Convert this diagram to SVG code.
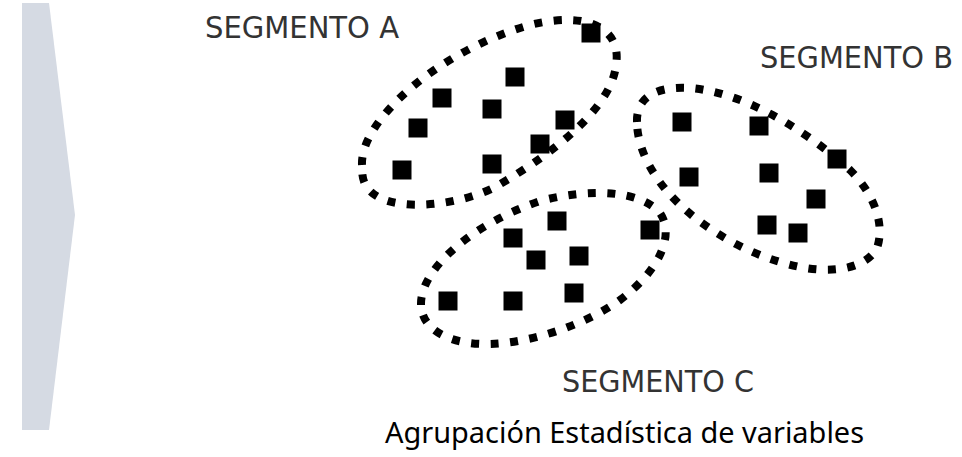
<svg xmlns="http://www.w3.org/2000/svg" width="962" height="457" viewBox="0 0 962 457">
<style>
.bg{fill:#ffffff}
.chev{fill:#D5DAE3}
.ring{fill:none;stroke:#000;stroke-width:8;stroke-dasharray:8 11.5}
.pt{fill:#000}
.lbl{font-family:"DejaVu Sans Condensed","DejaVu Sans",sans-serif;font-size:31px;fill:#333}
.cap{font-family:"Noto Sans","Open Sans",sans-serif;font-size:29px;fill:#000}
</style>
<defs>
<rect id="sq" x="-9.5" y="-9.5" width="19" height="19"/>
</defs>
<rect class="bg" x="0" y="0" width="962" height="457"/>
<polygon id="chevron" class="chev" points="22,3 49,3 75,215 49,430 22,430"/>
<g id="segmento-a">
<path class="ring" d="M 362,165 C 360,120 440,50 530,25 C 590,10 622,30 616,65 C 612,105 560,150 495,187 C 460,205 400,212 375,195 C 362,186 362,175 362,165 Z"/>
<g class="pt">
<use href="#sq" x="591" y="33"/><use href="#sq" x="515" y="77"/><use href="#sq" x="442" y="98"/>
<use href="#sq" x="492" y="109"/><use href="#sq" x="418" y="128"/><use href="#sq" x="565" y="120"/>
<use href="#sq" x="540" y="144"/><use href="#sq" x="402" y="170"/><use href="#sq" x="492" y="164"/>
</g>
<text class="lbl" x="205" y="38" textLength="194" lengthAdjust="spacingAndGlyphs">SEGMENTO A</text>
</g>
<g id="segmento-b">
<path class="ring" d="M 637,122 C 636,95 660,86 690,88 C 740,92 800,125 850,170 C 875,195 885,225 877,248 C 865,270 830,273 800,267 C 740,255 680,215 655,175 C 645,160 637,140 637,122 Z"/>
<g class="pt">
<use href="#sq" x="682" y="122"/><use href="#sq" x="759" y="126"/><use href="#sq" x="837" y="159"/>
<use href="#sq" x="689" y="177"/><use href="#sq" x="769" y="173"/><use href="#sq" x="816" y="199"/>
<use href="#sq" x="767" y="225"/><use href="#sq" x="798" y="233"/>
</g>
<text class="lbl" x="760" y="68" textLength="193" lengthAdjust="spacingAndGlyphs">SEGMENTO B</text>
</g>
<g id="segmento-c">
<path class="ring" d="M 421,305 C 420,270 470,225 540,201 C 590,188 640,190 660,213 C 675,235 660,270 620,300 C 585,325 530,343 490,344 C 450,345 422,330 421,305 Z"/>
<g class="pt">
<use href="#sq" x="557" y="221"/><use href="#sq" x="513" y="238"/><use href="#sq" x="536" y="260"/>
<use href="#sq" x="579" y="256"/><use href="#sq" x="650" y="230"/><use href="#sq" x="448" y="301"/>
<use href="#sq" x="513" y="301"/><use href="#sq" x="574" y="293"/>
</g>
<text class="lbl" x="562" y="392" textLength="192" lengthAdjust="spacingAndGlyphs">SEGMENTO C</text>
</g>
<g id="connectors"></g>
<text id="caption" class="cap" x="385" y="443" textLength="479" lengthAdjust="spacingAndGlyphs">Agrupación Estadística de variables</text>
</svg>
